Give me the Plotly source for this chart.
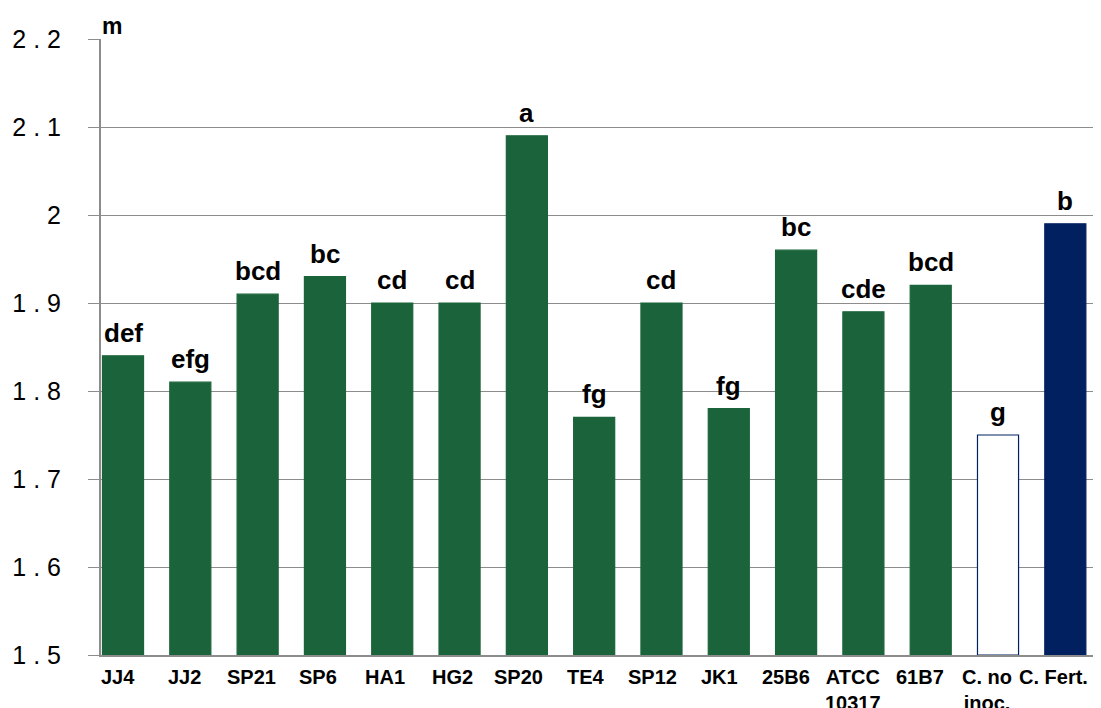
import plotly.graph_objects as go

categories = ["JJ4", "JJ2", "SP21", "SP6", "HA1", "HG2", "SP20", "TE4", "SP12",
              "JK1", "25B6", "ATCC<br>10317", "61B7", "C. no<br>inoc.", "C. Fert."]
values = [1.84, 1.81, 1.91, 1.93, 1.90, 1.90, 2.09, 1.77, 1.90,
          1.78, 1.96, 1.89, 1.92, 1.75, 1.99]
letters = ["def", "efg", "bcd", "bc", "cd", "cd", "a", "fg", "cd",
           "fg", "bc", "cde", "bcd", "g", "b"]
tick_vals = [1.5, 1.6, 1.7, 1.8, 1.9, 2.0, 2.1, 2.2]
tick_text = ["1 . 5", "1 . 6", "1 . 7", "1 . 8", "1 . 9", "2", "2 . 1", "2 . 2"]

GREEN = "#1b643b"
NAVY = "#00205f"
fill = [GREEN] * 13 + ["white", NAVY]
line_col = [GREEN] * 13 + [NAVY, NAVY]

x_idx = list(range(len(categories)))

fig = go.Figure()
fig.add_trace(go.Bar(
    x=x_idx, y=[v - 1.5 for v in values], base=1.5,
    width=0.61,
    marker=dict(color=fill, line=dict(color=line_col, width=1.2)),
    hoverinfo="skip",
))

bold = dict(family="Liberation Sans", color="black", weight="bold")

for i, (v, t) in enumerate(zip(values, letters)):
    fig.add_annotation(x=i, y=v, text=t, showarrow=False, yanchor="bottom",
                       yshift=6, font=dict(size=26, **bold))

# category labels drawn below the axis, drifting slightly left as in the original
for i, c in enumerate(categories):
    fig.add_annotation(x=i, xref="x", y=0, yref="paper", text=c,
                       showarrow=False, yanchor="top", yshift=-9,
                       xshift=-(5 + 0.5 * i),
                       font=dict(size=20, **bold))

fig.add_annotation(xref="paper", yref="paper", x=0, y=1, xanchor="left",
                   yanchor="bottom", yshift=-2, xshift=-1, text="m", showarrow=False,
                   font=dict(size=23, **bold))

# page body has an 8px margin: size the figure so the visible window matches
fig.update_layout(
    width=1093, height=700,
    margin=dict(l=93, r=0, t=31, b=53, autoexpand=False),
    plot_bgcolor="white", paper_bgcolor="white",
    showlegend=False,
    xaxis=dict(
        range=[-0.327, 14.53], automargin=False,
        tickmode="array", tickvals=x_idx, ticktext=[""] * len(x_idx),
        showgrid=False, zeroline=False,
        showline=True, linecolor="#8c8c8c", linewidth=1.5,
        ticks="",
    ),
    yaxis=dict(
        range=[1.5, 2.2], automargin=False,
        tickmode="array", tickvals=tick_vals, ticktext=tick_text,
        tickfont=dict(family="Liberation Sans", size=25, color="black"),
        showgrid=True, gridcolor="#8c8c8c", gridwidth=1.3,
        zeroline=False,
        showline=True, linecolor="#8c8c8c", linewidth=2,
        ticks="outside", ticklen=11, tickcolor="#8c8c8c", tickwidth=1.3,
        ticklabelstandoff=22,
    ),
)

fig.write_html("out.html")
